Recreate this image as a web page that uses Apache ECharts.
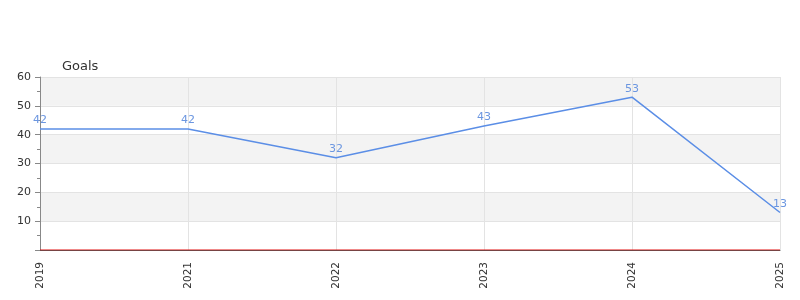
<!DOCTYPE html>
<html><head><meta charset="utf-8">
<script src="https://cdn.jsdelivr.net/npm/echarts@6/dist/echarts.min.js"></script>
<style>html,body{margin:0;padding:0;background:#fff}#c{width:800px;height:300px}</style>
</head><body><div id="c"></div>
<script>
const categories = ['2019','2021','2022','2023','2024','2025'];
const goals = [42, 42, 32, 43, 53, 13];
const baseline = [0, 0, 0, 0, 0, 0];
const yTicks = [10, 20, 30, 40, 50, 60];

const chart = echarts.init(document.getElementById('c'), null, {renderer:'canvas'});
chart.setOption({
  animation: false,
  textStyle: {fontFamily: 'DejaVu Sans'},
  grid: {left: 40, right: 20, top: 77, bottom: 50, containLabel: false},
  xAxis: {
    type: 'category', data: categories, boundaryGap: false,
    axisLine: {lineStyle: {color: '#555', width: 1}},
    axisTick: {show: false},
    axisLabel: {rotate: 90, color: '#333', fontSize: 10.5, margin: 12},
    splitLine: {show: true, lineStyle: {color: '#e3e3e3'}}
  },
  yAxis: {
    type: 'value', min: 0, max: 60, interval: 10,
    name: 'Goals', nameLocation: 'end', nameGap: 4,
    nameTextStyle: {color: '#333', fontSize: 13, align: 'left', padding: [0,0,0,22]},
    axisLine: {show: true, lineStyle: {color: '#888'}},
    axisTick: {show: true, length: 5, lineStyle: {color: '#888'}},
    minorTick: {show: true, splitNumber: 2, length: 3, lineStyle: {color: '#888'}},
    axisLabel: {color: '#333', fontSize: 11, showMinLabel: false, margin: 9},
    splitLine: {show: true, lineStyle: {color: '#e3e3e3'}},
    splitArea: {show: true, areaStyle: {color: ['#ffffff', '#f3f3f3']}}
  },
  series: [
    {
      type: 'line', data: baseline, symbol: 'none', silent: true,
      lineStyle: {color: '#e01010', width: 1}, z: 1
    },
    {
      type: 'line', data: goals, symbolSize: 0, symbol: 'circle',
      itemStyle: {color: '#5b8ee6'},
      lineStyle: {color: '#5b8ee6', width: 1.5},
      label: {show: true, position: 'top', color: '#6b96e0', fontSize: 11, distance: 3},
      z: 3
    }
  ]
});
</script></body></html>
